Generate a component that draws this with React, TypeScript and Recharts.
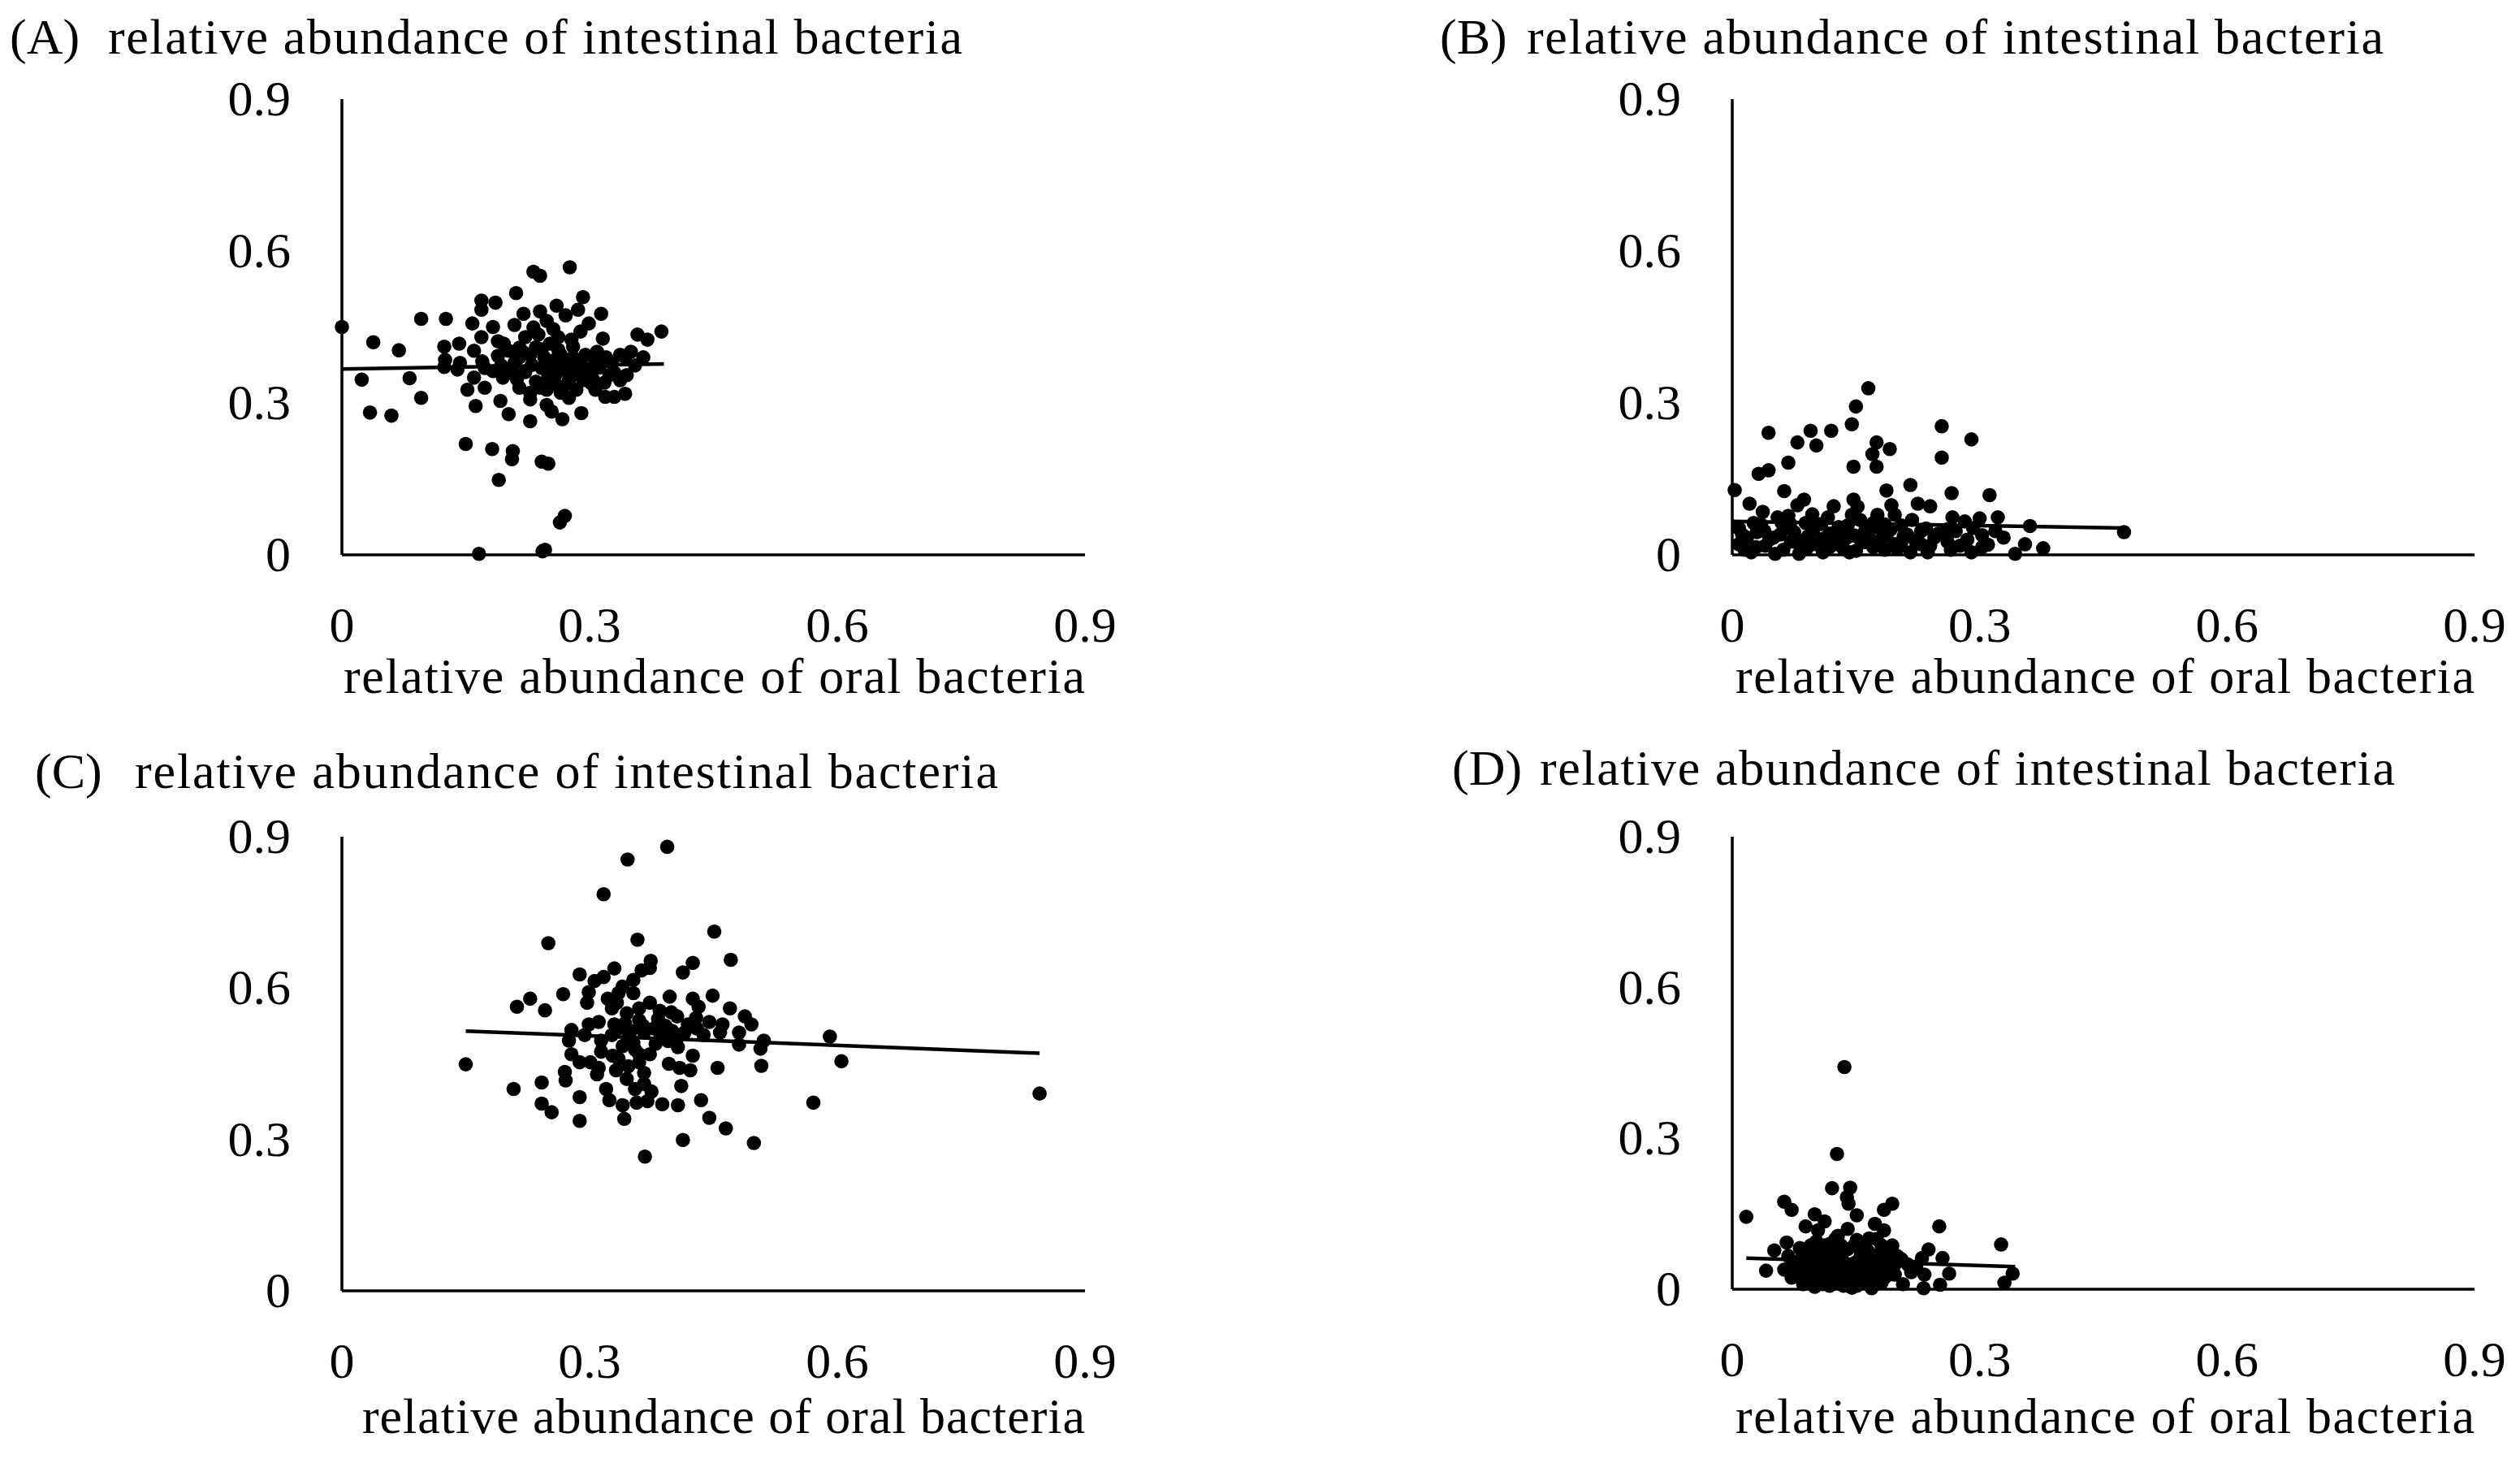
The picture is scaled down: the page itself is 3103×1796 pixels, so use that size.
import React from 'react';
import { ScatterChart, Scatter, XAxis, YAxis, ReferenceLine, Label } from 'recharts';

const tickValues = [0, 0.3, 0.6, 0.9];
const tickLabels = ['0', '0.3', '0.6', '0.9'];
const titleText = 'relative abundance of intestinal bacteria';
const xAxisText = 'relative abundance of oral bacteria';
const panelLetters = ['(A)', '(B)', '(C)', '(D)'];

// [oral, intestinal]
const panelA: number[][] = [
  [0, 0.45], [0.038, 0.42], [0.069, 0.404], [0.096, 0.466], [0.126, 0.466], [0.024, 0.346], [0.082, 0.349],
  [0.096, 0.31], [0.034, 0.281], [0.06, 0.275], [0.15, 0.219], [0.182, 0.209], [0.207, 0.205], [0.206, 0.189],
  [0.242, 0.184], [0.25, 0.18], [0.19, 0.148], [0.27, 0.077], [0.264, 0.064], [0.166, 0.002], [0.243, 0.007],
  [0.246, 0.01], [0.232, 0.559], [0.24, 0.551], [0.276, 0.568], [0.211, 0.517], [0.292, 0.509], [0.169, 0.502],
  [0.186, 0.498], [0.169, 0.484], [0.26, 0.492], [0.314, 0.476], [0.22, 0.476], [0.24, 0.481], [0.158, 0.457],
  [0.183, 0.45], [0.169, 0.43], [0.286, 0.484], [0.271, 0.473], [0.299, 0.457], [0.209, 0.454], [0.256, 0.446],
  [0.289, 0.441], [0.316, 0.427], [0.238, 0.435], [0.358, 0.435], [0.37, 0.425], [0.387, 0.441], [0.124, 0.411],
  [0.142, 0.417], [0.16, 0.403], [0.196, 0.417], [0.215, 0.409], [0.242, 0.406], [0.28, 0.411], [0.309, 0.401],
  [0.337, 0.395], [0.35, 0.401], [0.365, 0.39], [0.125, 0.385], [0.143, 0.379], [0.17, 0.382], [0.189, 0.393],
  [0.209, 0.379], [0.228, 0.395], [0.258, 0.385], [0.271, 0.377], [0.288, 0.379], [0.307, 0.382], [0.355, 0.374],
  [0.124, 0.371], [0.14, 0.366], [0.183, 0.363], [0.206, 0.369], [0.222, 0.361], [0.242, 0.369], [0.262, 0.363],
  [0.284, 0.358], [0.304, 0.347], [0.324, 0.355], [0.337, 0.345], [0.16, 0.35], [0.152, 0.326], [0.173, 0.33],
  [0.212, 0.347], [0.235, 0.342], [0.255, 0.337], [0.275, 0.345], [0.284, 0.326], [0.228, 0.32], [0.228, 0.307],
  [0.248, 0.326], [0.265, 0.32], [0.319, 0.312], [0.33, 0.312], [0.343, 0.318], [0.302, 0.339], [0.162, 0.294],
  [0.192, 0.304], [0.202, 0.278], [0.228, 0.264], [0.248, 0.296], [0.254, 0.283], [0.267, 0.268], [0.29, 0.28],
  [0.219, 0.401], [0.202, 0.403], [0.252, 0.417], [0.265, 0.395], [0.294, 0.369], [0.327, 0.379], [0.343, 0.39],
  [0.173, 0.369], [0.193, 0.374], [0.258, 0.353], [0.268, 0.332], [0.307, 0.326], [0.189, 0.422], [0.232, 0.449],
  [0.248, 0.462], [0.215, 0.39], [0.23, 0.375], [0.245, 0.39], [0.255, 0.37], [0.262, 0.405], [0.275, 0.36],
  [0.28, 0.39], [0.295, 0.395], [0.3, 0.36], [0.312, 0.37], [0.32, 0.39], [0.235, 0.41], [0.25, 0.352],
  [0.205, 0.36], [0.195, 0.35], [0.222, 0.43], [0.262, 0.43], [0.278, 0.425], [0.33, 0.36], [0.345, 0.355],
  [0.318, 0.34], [0.292, 0.345], [0.24, 0.33], [0.215, 0.33], [0.275, 0.31],
];
const fitA: number[][] = [[0, 0.367], [0.39, 0.377]];

const panelB: number[][] = [
  [0.165, 0.329], [0.15, 0.293], [0.145, 0.258], [0.044, 0.241], [0.095, 0.245], [0.12, 0.245], [0.079, 0.222],
  [0.102, 0.216], [0.175, 0.222], [0.191, 0.209], [0.17, 0.199], [0.254, 0.254], [0.29, 0.228], [0.254, 0.192],
  [0.068, 0.182], [0.044, 0.167], [0.032, 0.16], [0.147, 0.174], [0.175, 0.174], [0.003, 0.128], [0.063, 0.126],
  [0.187, 0.127], [0.216, 0.138], [0.266, 0.122], [0.312, 0.118], [0.021, 0.101], [0.087, 0.109], [0.079, 0.098],
  [0.123, 0.096], [0.147, 0.109], [0.152, 0.095], [0.193, 0.098], [0.225, 0.101], [0.24, 0.096], [0.037, 0.085],
  [0.055, 0.074], [0.097, 0.08], [0.068, 0.077], [0.197, 0.079], [0.267, 0.074], [0.3, 0.072], [0.322, 0.074],
  [0.282, 0.066], [0.361, 0.057], [0.475, 0.045], [0.008, 0.053], [0.026, 0.063], [0.039, 0.047], [0.066, 0.053],
  [0.089, 0.063], [0.108, 0.061], [0.129, 0.055], [0.155, 0.069], [0.171, 0.063], [0.205, 0.058], [0.229, 0.047],
  [0.25, 0.042], [0.261, 0.026], [0.276, 0.018], [0.303, 0.039], [0.303, 0.015], [0.329, 0.034], [0.355, 0.021],
  [0.377, 0.013], [0.343, 0.002], [0.023, 0.005], [0.029, 0.015], [0.052, 0.002], [0.081, 0.002], [0.102, 0.021],
  [0.118, 0.015], [0.142, 0.005], [0.155, 0.031], [0.171, 0.015], [0.187, 0.037], [0.216, 0.005], [0.237, 0.005],
  [0.229, 0.021], [0.018, 0.034], [0.05, 0.034], [0.071, 0.026], [0.092, 0.037], [0.118, 0.042], [0.139, 0.034],
  [0.161, 0.047], [0.182, 0.045], [0.208, 0.037], [0.245, 0.034], [0.271, 0.047], [0.292, 0.053], [0.319, 0.047],
  [0.008, 0.021], [0.081, 0.021], [0.129, 0.021], [0.197, 0.021], [0.176, 0.079], [0.145, 0.079], [0.06, 0.063],
  [0.116, 0.074], [0.218, 0.069], [0.012, 0.04], [0.03, 0.045], [0.045, 0.03], [0.058, 0.04], [0.075, 0.045],
  [0.085, 0.028], [0.098, 0.048], [0.11, 0.032], [0.125, 0.044], [0.135, 0.012], [0.148, 0.038], [0.16, 0.025],
  [0.168, 0.052], [0.18, 0.03], [0.192, 0.05], [0.2, 0.012], [0.212, 0.04], [0.222, 0.028], [0.235, 0.052],
  [0.24, 0.018], [0.015, 0.01], [0.04, 0.018], [0.062, 0.01], [0.09, 0.012], [0.11, 0.005], [0.125, 0.028],
  [0.15, 0.008], [0.165, 0.036], [0.185, 0.01], [0.205, 0.025], [0.035, 0.06], [0.07, 0.062], [0.1, 0.058],
  [0.14, 0.058], [0.185, 0.06], [0.26, 0.05], [0.285, 0.03], [0.31, 0.02], [0.265, 0.01], [0.29, 0.005],
];
const fitB: number[][] = [[0, 0.066], [0.476, 0.053]];

const panelC: number[][] = [
  [0.394, 0.88], [0.346, 0.855], [0.317, 0.786], [0.25, 0.689], [0.358, 0.696], [0.451, 0.712], [0.471, 0.656],
  [0.425, 0.65], [0.413, 0.631], [0.374, 0.654], [0.363, 0.635], [0.33, 0.639], [0.288, 0.627], [0.306, 0.614],
  [0.317, 0.622], [0.353, 0.616], [0.268, 0.588], [0.228, 0.579], [0.212, 0.563], [0.246, 0.556], [0.299, 0.592],
  [0.297, 0.571], [0.322, 0.579], [0.34, 0.603], [0.353, 0.59], [0.397, 0.583], [0.425, 0.579], [0.449, 0.585],
  [0.373, 0.571], [0.327, 0.56], [0.399, 0.552], [0.432, 0.563], [0.47, 0.56], [0.488, 0.544], [0.406, 0.544],
  [0.429, 0.541], [0.445, 0.533], [0.461, 0.528], [0.496, 0.528], [0.278, 0.517], [0.299, 0.528], [0.311, 0.533],
  [0.33, 0.528], [0.343, 0.53], [0.36, 0.536], [0.383, 0.539], [0.419, 0.528], [0.591, 0.504], [0.605, 0.455],
  [0.481, 0.512], [0.511, 0.496], [0.507, 0.48], [0.481, 0.488], [0.275, 0.496], [0.294, 0.507], [0.314, 0.496],
  [0.327, 0.507], [0.347, 0.501], [0.366, 0.512], [0.386, 0.507], [0.406, 0.501], [0.438, 0.507], [0.458, 0.512],
  [0.407, 0.483], [0.278, 0.469], [0.288, 0.453], [0.301, 0.453], [0.311, 0.442], [0.328, 0.466], [0.36, 0.469],
  [0.373, 0.469], [0.396, 0.45], [0.409, 0.442], [0.425, 0.466], [0.455, 0.442], [0.508, 0.446], [0.27, 0.434],
  [0.271, 0.417], [0.309, 0.429], [0.332, 0.437], [0.347, 0.445], [0.366, 0.432], [0.422, 0.437], [0.242, 0.413],
  [0.208, 0.4], [0.288, 0.384], [0.242, 0.371], [0.254, 0.354], [0.288, 0.337], [0.32, 0.4], [0.324, 0.378],
  [0.34, 0.368], [0.342, 0.341], [0.357, 0.373], [0.37, 0.376], [0.366, 0.41], [0.388, 0.37], [0.407, 0.368],
  [0.411, 0.406], [0.435, 0.378], [0.445, 0.343], [0.465, 0.322], [0.413, 0.299], [0.499, 0.293], [0.367, 0.266],
  [0.571, 0.373], [0.15, 0.449], [0.36, 0.453], [0.314, 0.474], [0.353, 0.491], [0.333, 0.571], [0.373, 0.64],
  [0.845, 0.391], [0.335, 0.52], [0.35, 0.515], [0.365, 0.525], [0.378, 0.52], [0.392, 0.525], [0.4, 0.515],
  [0.415, 0.512], [0.43, 0.52], [0.34, 0.485], [0.355, 0.478], [0.38, 0.49], [0.395, 0.495], [0.345, 0.55],
  [0.36, 0.56], [0.385, 0.555], [0.335, 0.59], [0.345, 0.42], [0.355, 0.4], [0.375, 0.395], [0.335, 0.46],
];
const fitC: number[][] = [[0.15, 0.515], [0.845, 0.471]];

const panelD: number[][] = [
  [0.136, 0.442], [0.127, 0.269], [0.121, 0.201], [0.143, 0.202], [0.139, 0.183], [0.141, 0.17], [0.063, 0.174],
  [0.072, 0.158], [0.194, 0.17], [0.184, 0.158], [0.017, 0.144], [0.151, 0.147], [0.1, 0.149], [0.112, 0.135],
  [0.089, 0.125], [0.104, 0.117], [0.173, 0.13], [0.184, 0.117], [0.251, 0.125], [0.326, 0.089], [0.166, 0.101],
  [0.14, 0.12], [0.066, 0.093], [0.051, 0.077], [0.082, 0.082], [0.095, 0.087], [0.128, 0.106], [0.194, 0.087],
  [0.2, 0.066], [0.238, 0.079], [0.255, 0.062], [0.23, 0.062], [0.041, 0.037], [0.063, 0.039], [0.068, 0.066],
  [0.081, 0.055], [0.092, 0.071], [0.105, 0.077], [0.118, 0.066], [0.132, 0.087], [0.148, 0.087], [0.164, 0.077],
  [0.181, 0.087], [0.191, 0.066], [0.072, 0.023], [0.086, 0.039], [0.099, 0.055], [0.112, 0.039], [0.125, 0.055],
  [0.138, 0.039], [0.151, 0.055], [0.164, 0.039], [0.177, 0.049], [0.086, 0.01], [0.1, 0.005], [0.118, 0.007],
  [0.135, 0.007], [0.151, 0.007], [0.169, 0.002], [0.181, 0.013], [0.197, 0.029], [0.207, 0.01], [0.217, 0.034],
  [0.232, 0.002], [0.233, 0.029], [0.252, 0.009], [0.263, 0.031], [0.33, 0.013], [0.34, 0.031], [0.092, 0.023],
  [0.125, 0.023], [0.158, 0.023], [0.105, 0.034], [0.132, 0.039], [0.145, 0.023], [0.072, 0.045], [0.075, 0.034],
  [0.171, 0.034], [0.187, 0.039], [0.213, 0.049], [0.197, 0.049], [0.151, 0.098], [0.132, 0.071], [0.112, 0.087],
  [0.095, 0.055], [0.223, 0.045], [0.08, 0.03], [0.09, 0.045], [0.098, 0.015], [0.108, 0.06], [0.115, 0.02],
  [0.122, 0.045], [0.128, 0.012], [0.133, 0.06], [0.14, 0.025], [0.145, 0.05], [0.15, 0.035], [0.156, 0.07],
  [0.16, 0.015], [0.166, 0.06], [0.172, 0.02], [0.178, 0.07], [0.186, 0.025], [0.19, 0.055], [0.118, 0.09],
  [0.14, 0.08], [0.125, 0.1], [0.158, 0.09], [0.175, 0.1], [0.11, 0.01], [0.128, 0.075], [0.145, 0.003],
  [0.16, 0.045], [0.102, 0.095], [0.085, 0.065], [0.205, 0.06],
];
const fitD: number[][] = [[0.017, 0.062], [0.343, 0.045]];

const FONT = "'Liberation Serif', 'Times New Roman', serif";
const FS = 62;

type Layout = {
  left: number; top: number; w: number; h: number;
  pl: number; pt: number; pr: number; pb: number;
  letterX: number; titleX: number; titleY: number; titleLen: number;
  xlabX: number; xlabY: number;
};

const layouts: Layout[] = [
  { left: 0, top: 0, w: 1550, h: 898, pl: 421, pt: 122, pr: 1336, pb: 683, letterX: 12, titleX: 133, titleY: 66, titleLen: 1052, xlabX: 423, xlabY: 853 },
  { left: 1552, top: 0, w: 1551, h: 898, pl: 581, pt: 122, pr: 1495, pb: 683, letterX: 221, titleX: 328, titleY: 66, titleLen: 1055, xlabX: 585, xlabY: 853 },
  { left: 0, top: 898, w: 1550, h: 898, pl: 421, pt: 132, pr: 1336, pb: 691, letterX: 43, titleX: 166, titleY: 72, titleLen: 1063, xlabX: 446, xlabY: 866 },
  { left: 1552, top: 898, w: 1551, h: 898, pl: 581, pt: 132, pr: 1495, pb: 689, letterX: 236, titleX: 344, titleY: 68, titleLen: 1053, xlabX: 585, xlabY: 866 },
];

const Dot = (props: any) => {
  if (props.cx == null || props.cy == null) return null;
  return <circle cx={props.cx} cy={props.cy} r={8.8} fill="#000" />;
};

function Panel({ data, fit, letter, L }: { data: number[][]; fit: number[][]; letter: string; L: Layout }) {
  const points = data.map(([x, y]) => ({ x, y }));
  const yW = 100;
  const xH = 100;
  const margin = { top: L.pt, left: L.pl - yW, right: L.w - L.pr, bottom: L.h - L.pb - xH };
  const textStyle = { fontFamily: FONT, fontSize: FS, fill: '#000' } as any;
  const fmt = (v: number) => tickLabels[tickValues.indexOf(v)] ?? String(v);

  const XTick = (p: any) => (
    <text x={p.x} y={L.pb + 107} textAnchor="middle" style={textStyle}>
      {fmt(p.payload.value)}
    </text>
  );
  const YTick = (p: any) => (
    <text x={L.pl - 63} y={p.y + 20} textAnchor="end" style={textStyle}>
      {fmt(p.payload.value)}
    </text>
  );

  return (
    <div style={{ position: 'absolute', left: L.left, top: L.top, width: L.w, height: L.h }}>
      <ScatterChart width={L.w} height={L.h} margin={margin}>
        <XAxis
          type="number"
          dataKey="x"
          domain={[0, 0.9]}
          ticks={tickValues}
          interval={0}
          tickSize={0}
          tickMargin={0}
          tickLine={false}
          height={xH}
          axisLine={{ stroke: '#000', strokeWidth: 3.5 }}
          tick={XTick}
        >
          <Label
            value={xAxisText}
            content={() => (
              <text x={L.xlabX} y={L.xlabY} textLength={L.pr - L.xlabX} lengthAdjust="spacing" style={textStyle}>
                {xAxisText}
              </text>
            )}
          />
        </XAxis>
        <YAxis
          type="number"
          dataKey="y"
          domain={[0, 0.9]}
          ticks={tickValues}
          interval={0}
          tickSize={0}
          tickMargin={0}
          tickLine={false}
          width={yW}
          axisLine={{ stroke: '#000', strokeWidth: 3.5 }}
          tick={YTick}
        >
          <Label
            value={titleText}
            content={() => (
              <g>
                <text x={L.letterX} y={L.titleY} style={textStyle}>{letter}</text>
                <text x={L.titleX} y={L.titleY} textLength={L.titleLen} lengthAdjust="spacing" style={textStyle}>
                  {titleText}
                </text>
              </g>
            )}
          />
        </YAxis>
        <Scatter data={points} fill="#000" shape={Dot} isAnimationActive={false} />
        <ReferenceLine
          segment={[{ x: fit[0][0], y: fit[0][1] }, { x: fit[1][0], y: fit[1][1] }]}
          stroke="#000"
          strokeWidth={4.5}
        />
      </ScatterChart>
    </div>
  );
}

export default function App() {
  const panels = [
    { data: panelA, fit: fitA },
    { data: panelB, fit: fitB },
    { data: panelC, fit: fitC },
    { data: panelD, fit: fitD },
  ];
  return (
    <div style={{ position: 'absolute', left: 0, top: 0, width: 3103, height: 1796, background: '#fff' }}>
      {panels.map((p, i) => (
        <Panel key={i} data={p.data} fit={p.fit} letter={panelLetters[i]} L={layouts[i]} />
      ))}
    </div>
  );
}
